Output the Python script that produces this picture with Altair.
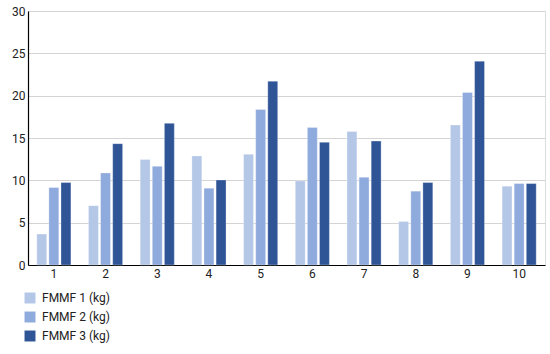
import altair as alt
import pandas as pd

categories = ["1", "2", "3", "4", "5", "6", "7", "8", "9", "10"]
series = ["FMMF 1 (kg)", "FMMF 2 (kg)", "FMMF 3 (kg)"]
fmmf1 = [3.65, 7.0, 12.45, 12.88, 13.07, 9.93, 15.78, 5.14, 16.53, 9.31]
fmmf2 = [9.15, 10.88, 11.66, 9.07, 18.37, 16.25, 10.37, 8.72, 20.38, 9.62]
fmmf3 = [9.74, 14.33, 16.73, 10.05, 21.71, 14.49, 14.64, 9.74, 24.07, 9.62]
colors = ["#b4c7e7", "#8faadc", "#2f5597"]

rows = []
for name, vals in zip(series, [fmmf1, fmmf2, fmmf3]):
    for c, v in zip(categories, vals):
        rows.append({"cat": c, "series": name, "value": v})
df = pd.DataFrame(rows)

font = "Roboto"

chart = alt.Chart(df).mark_bar(stroke="white", strokeOpacity=0.5, strokeWidth=0.6).encode(
    x=alt.X("cat:N", sort=categories, title=None,
            scale=alt.Scale(paddingInner=0.34, paddingOuter=0.17),
            axis=alt.Axis(labelAngle=0, ticks=False, domainColor="black", domainWidth=1.2,
                          labelFont=font, labelFontSize=12, labelColor="#222", labelPadding=3)),
    xOffset=alt.XOffset("series:N", sort=series, scale=alt.Scale(paddingInner=0.18)),
    y=alt.Y("value:Q", title=None,
            scale=alt.Scale(domain=[0, 30], nice=False),
            axis=alt.Axis(values=[0, 5, 10, 15, 20, 25, 30], ticks=False, domainColor="black",
                          domainWidth=1.2, gridColor="#d4d4d4", gridWidth=1.2,
                          labelFont=font, labelFontSize=12, labelColor="#222", labelPadding=3)),
    color=alt.Color("series:N", sort=series, title=None,
                    scale=alt.Scale(domain=series, range=colors),
                    legend=alt.Legend(orient="none", legendX=-4, legendY=281, direction="vertical",
                                      symbolType="square", symbolSize=120, symbolStrokeWidth=0,
                                      labelFont=font, labelFontSize=12, labelColor="#222",
                                      rowPadding=7, labelOffset=6)),
).properties(
    width=517, height=254,
    autosize=alt.AutoSizeParams(type="none"),
    padding={"left": 28, "top": 11, "right": 5, "bottom": 89},
).configure_view(stroke=None).configure(background="white")

chart.save("out.html", embed_options={"renderer": "svg", "actions": False})
